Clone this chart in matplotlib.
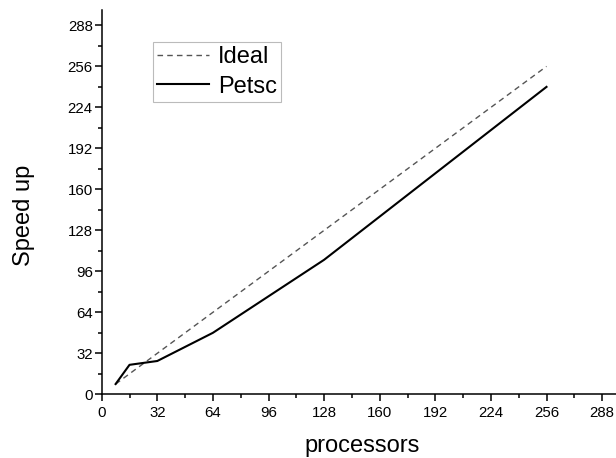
import matplotlib
matplotlib.use("Agg")
import matplotlib.pyplot as plt
from matplotlib.ticker import MultipleLocator

plt.rcParams['font.family'] = ['Liberation Sans', 'DejaVu Sans']

processors = [8, 16, 32, 64, 128, 256]
ideal = [8, 16, 32, 64, 128, 256]
petsc = [8, 23, 26, 48, 105, 240]
ticks = [0, 32, 64, 96, 128, 160, 192, 224, 256, 288]


def plot_speedup(out_path="out.png"):
    fig = plt.figure(figsize=(6.16, 4.58), dpi=100)
    ax = fig.add_axes([0.1651, 0.1391, 0.8349, 0.839])

    ax.plot(processors, ideal, color="#555555", linestyle=(0, (4, 3)),
            linewidth=1.0, label="Ideal")
    ax.plot(processors, petsc, color="black", linewidth=1.5, label="Petsc")

    ax.set_xlim(0, 296)
    ax.set_ylim(0, 300)
    ax.set_xticks(ticks)
    ax.set_yticks(ticks)
    ax.xaxis.set_minor_locator(MultipleLocator(16))
    ax.yaxis.set_minor_locator(MultipleLocator(16))

    for side in ["top", "right"]:
        ax.spines[side].set_visible(False)
    for side in ["left", "bottom"]:
        ax.spines[side].set_linewidth(1.1)

    ax.tick_params(which="major", direction="out", length=5, width=1.1,
                   labelsize=10.8)
    ax.tick_params(which="minor", direction="out", length=3, width=1.1)
    ax.tick_params(axis="x", pad=3.5)
    ax.tick_params(axis="y", pad=1.5)

    fig.text(24 / 616, 1 - 215 / 458, "Speed up", rotation=90,
             ha="center", va="center", fontsize=17)
    fig.text(362.5 / 616, 6 / 458, "processors",
             ha="center", va="baseline", fontsize=17)

    leg = ax.legend(loc="upper left", bbox_to_anchor=(152.7 / 616, 1 - 41.7 / 458),
                    bbox_transform=fig.transFigure, borderaxespad=0,
                    fontsize=17, frameon=True, fancybox=False,
                    handlelength=2.2, handletextpad=0.35, labelspacing=0.3,
                    borderpad=0.2)
    leg.get_frame().set_edgecolor("#aaaaaa")
    leg.get_frame().set_linewidth(0.8)

    fig.savefig(out_path, dpi=100)
    plt.close(fig)


plot_speedup()
